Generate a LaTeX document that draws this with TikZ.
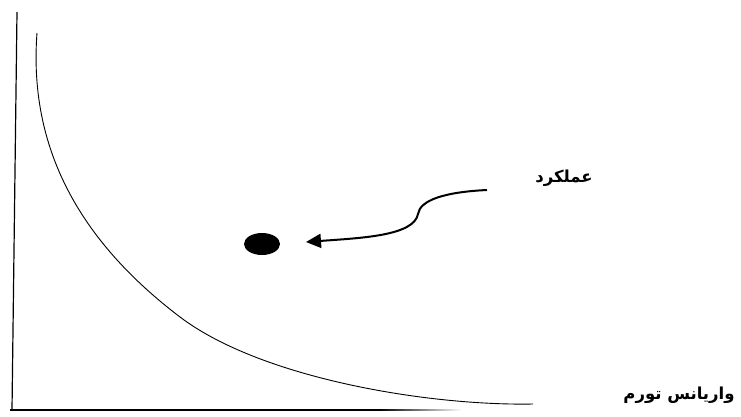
\documentclass[tikz,border=0pt]{standalone}
\usepackage{fontspec}
\newfontfamily\arabicfont[Script=Arabic]{DejaVu Sans}
\TeXXeTstate=1
\usetikzlibrary{arrows.meta,shapes.geometric}
\begin{document}
\begin{tikzpicture}[x=1pt,y=-1pt,
  axis/.style={line width=1.2pt,black},
  curveline/.style={line width=0.9pt,black},
  pointer/.style={line width=2pt,black,-{Triangle[length=15pt,width=14pt]}},
  lbl/.style={font=\arabicfont\bfseries\fontsize{16.5}{18}\selectfont,inner sep=0pt}]
\useasboundingbox (0,0) rectangle (741,416);
% axes
\coordinate (ytop) at (17,12);
\coordinate (orig) at (12,410);
\coordinate (xmid) at (380,410);
\draw[axis] (ytop) -- (orig);
\draw[axis] (10,410) -- (xmid);
\shade[left color=black,right color=white] (380,409.4) rectangle (462,410.6);
% curve
\draw[curveline] (37,33) .. controls (29,140) and (72,235) .. (180,317)
  .. controls (262,379) and (430,406) .. (533,404);
% point
\node[ellipse,fill=black,minimum width=36pt,minimum height=22pt,inner sep=0pt] (pt) at (262,244) {};
% labels
\node[lbl] (perf) at (564,178) {\beginR عملکرد\endR};
\node[lbl] (var) at (679,395) {\beginR واریانس تورم\endR};
\coordinate (arrstart) at (487,190);
\coordinate (arrtip) at (306,242);
\draw[pointer] (arrstart) .. controls (445,192) and (420,200) .. (418,214)
  .. controls (414,236) and (360,238) .. (arrtip);
\end{tikzpicture}
\end{document}
